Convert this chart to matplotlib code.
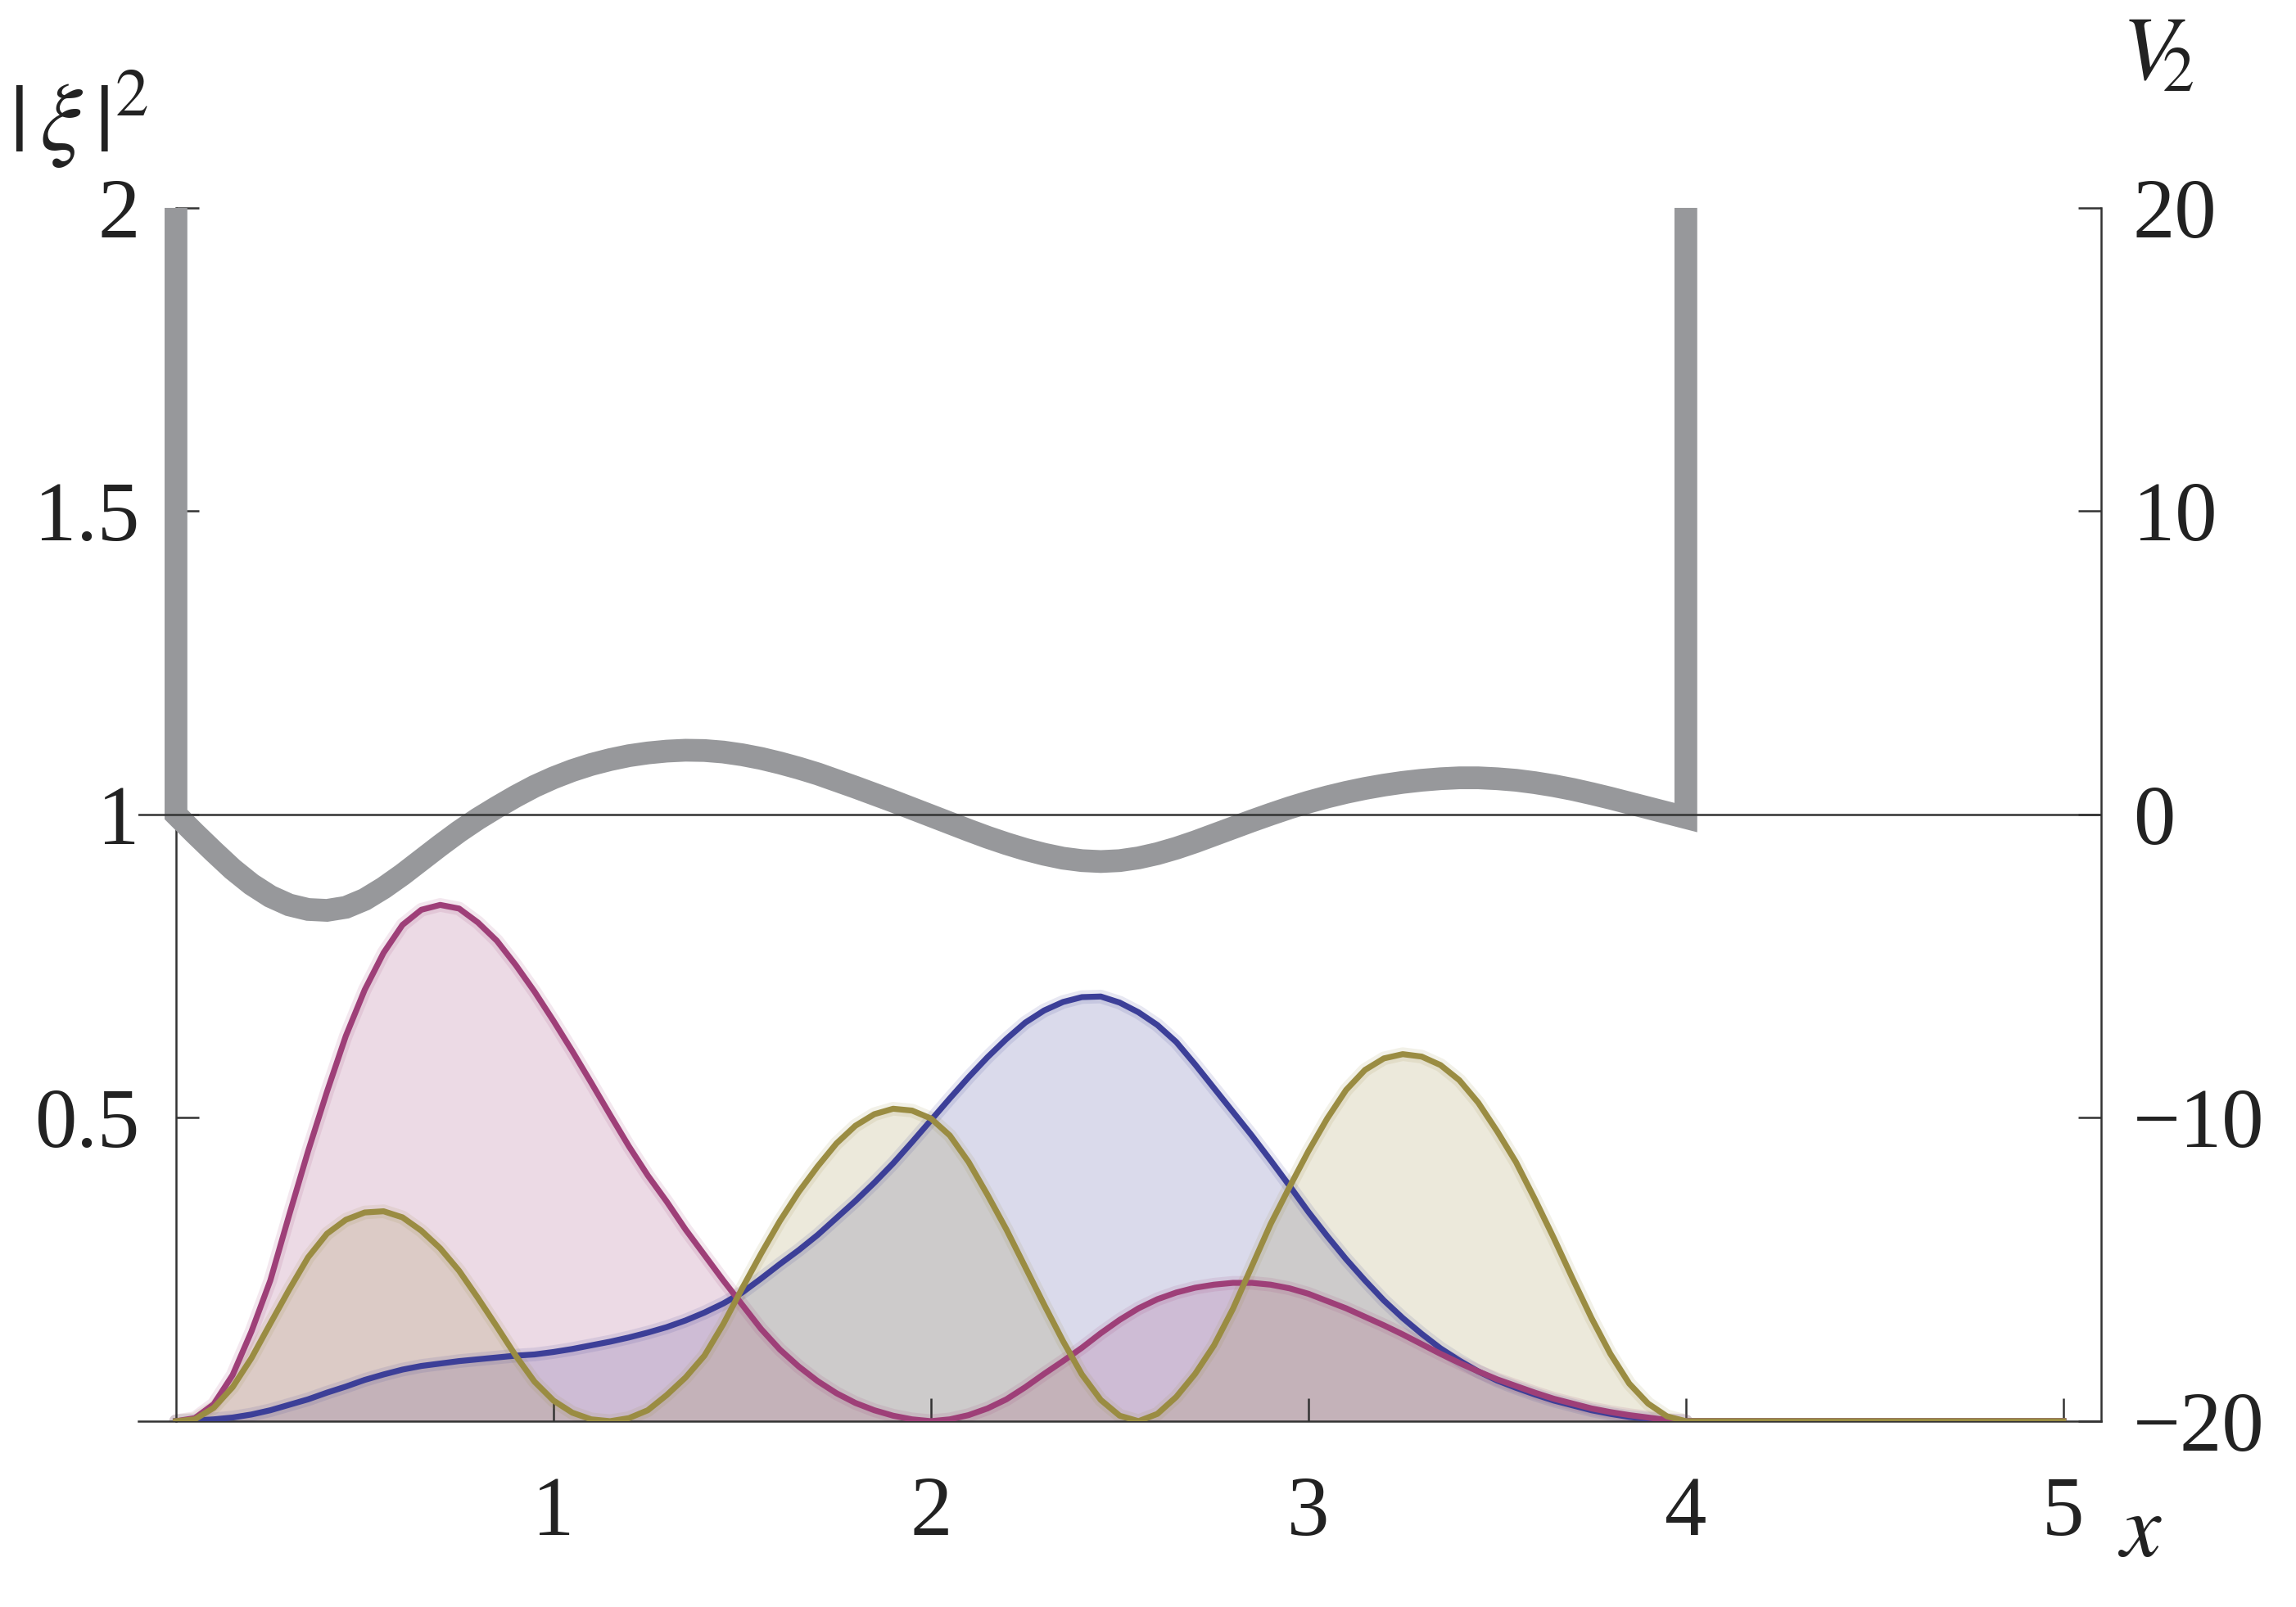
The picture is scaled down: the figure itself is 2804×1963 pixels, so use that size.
import numpy as np
import matplotlib
matplotlib.use('Agg')
import matplotlib.pyplot as plt

# ---- data ----
# sample positions along x (0 .. 4 in steps of 0.05, then 5)
x_grid = list(np.round(np.arange(0.0, 4.0001, 0.05), 2)) + [5.0]

y_blue = [0.0, 0.001, 0.003, 0.006, 0.011, 0.018, 0.027, 0.036, 0.047, 0.057,
          0.068, 0.077, 0.085, 0.091, 0.095, 0.099, 0.102, 0.105, 0.108, 0.11,
          0.114, 0.119, 0.125, 0.131, 0.138, 0.146, 0.155, 0.166, 0.179, 0.194,
          0.212, 0.235, 0.259, 0.282, 0.307, 0.335, 0.363, 0.393, 0.425, 0.46,
          0.496, 0.532, 0.567, 0.6, 0.63, 0.657, 0.677, 0.691, 0.699, 0.7,
          0.69, 0.674, 0.653, 0.625, 0.588, 0.549, 0.51, 0.471, 0.43, 0.388,
          0.345, 0.305, 0.267, 0.232, 0.199, 0.17, 0.144, 0.12, 0.1, 0.082,
          0.067, 0.055, 0.044, 0.034, 0.026, 0.018, 0.012, 0.007, 0.004, 0.001,
          0.0, 0.0]

y_mag = [0.0, 0.005, 0.028, 0.076, 0.148, 0.232, 0.34, 0.445, 0.543, 0.635,
         0.711, 0.772, 0.818, 0.843, 0.851, 0.845, 0.822, 0.792, 0.752, 0.708,
         0.66, 0.61, 0.558, 0.505, 0.453, 0.405, 0.362, 0.316, 0.274, 0.232,
         0.192, 0.152, 0.118, 0.09, 0.066, 0.046, 0.03, 0.018, 0.009, 0.003,
         0.0, 0.003, 0.01, 0.021, 0.036, 0.056, 0.078, 0.099, 0.121, 0.145,
         0.167, 0.186, 0.201, 0.212, 0.22, 0.225, 0.228, 0.228, 0.225, 0.219,
         0.21, 0.198, 0.186, 0.172, 0.158, 0.143, 0.127, 0.111, 0.096, 0.082,
         0.069, 0.058, 0.047, 0.037, 0.029, 0.021, 0.015, 0.01, 0.006, 0.002,
         0.0, 0.0]

y_olive = [0.0, 0.003, 0.022, 0.056, 0.104, 0.161, 0.217, 0.27, 0.309, 0.332,
           0.344, 0.346, 0.336, 0.314, 0.285, 0.248, 0.203, 0.156, 0.108, 0.065,
           0.034, 0.014, 0.003, 0.0, 0.005, 0.018, 0.043, 0.072, 0.108, 0.16,
           0.219, 0.276, 0.33, 0.378, 0.42, 0.458, 0.487, 0.506, 0.515, 0.512,
           0.499, 0.471, 0.427, 0.373, 0.316, 0.254, 0.192, 0.132, 0.077, 0.035,
           0.009, 0.0, 0.012, 0.04, 0.078, 0.125, 0.185, 0.255, 0.325, 0.386,
           0.445, 0.499, 0.546, 0.579, 0.598, 0.605, 0.601, 0.587, 0.562, 0.525,
           0.478, 0.427, 0.366, 0.302, 0.235, 0.17, 0.111, 0.062, 0.029, 0.008,
           0.0, 0.0]

# potential V2 (right axis), vertical walls at x = 0 and x = 4
x_pot = [0.0] + list(np.round(np.arange(0.0, 4.0001, 0.05), 2)) + [4.0]
v_pot = [20.0,
         0.0, -0.62, -1.22, -1.8, -2.3, -2.7, -2.98, -3.13, -3.16, -3.06,
         -2.8, -2.42, -1.98, -1.5, -1.02, -0.56, -0.14, 0.24, 0.6, 0.93,
         1.21, 1.45, 1.65, 1.81, 1.94, 2.03, 2.09, 2.12, 2.11, 2.06,
         1.97, 1.85, 1.7, 1.53, 1.34, 1.12, 0.9, 0.67, 0.44, 0.2,
         -0.04, -0.28, -0.52, -0.75, -0.96, -1.15, -1.31, -1.44, -1.52, -1.55,
         -1.52, -1.43, -1.29, -1.11, -0.9, -0.67, -0.44, -0.21, 0.01, 0.22,
         0.41, 0.58, 0.73, 0.86, 0.97, 1.06, 1.13, 1.18, 1.21, 1.21,
         1.18, 1.13, 1.05, 0.95, 0.83, 0.69, 0.54, 0.38, 0.22, 0.06,
         -0.1,
         20.0]

x_ticks = [1, 2, 3, 4, 5]
x_ticklabels = ['1', '2', '3', '4', '5']
yl_ticks = [0.5, 1, 1.5, 2]
yl_ticklabels = ['0.5', '1', '1.5', '2']
yr_ticks = [-20, -10, 0, 10, 20]
yr_ticklabels = ['\u221220', '\u221210', '0', '10', '20']

series = [
    (y_blue, '#3c3f98'),
    (y_mag, '#9e3f78'),
    (y_olive, '#9a8c42'),
]

# ---- style ----
plt.rcParams['font.family'] = ['Liberation Serif', 'DejaVu Serif']
plt.rcParams['mathtext.fontset'] = 'stix'
axis_col = '#333333'
text_col = '#222222'
fs = 37

fig = plt.figure(figsize=(14.02, 9.815), dpi=200)
ax = fig.add_axes([0.0602, 0.11564, 0.8549, 0.7550])
ax.set_xlim(-0.1, 5.1)
ax.set_ylim(0, 2)

xs = np.asarray(x_grid)
for ys, c in series:
    ax.fill_between(xs, 0, np.asarray(ys), color=c, alpha=0.19, lw=0, zorder=1)
m = xs <= 4.0
for ys, c in series:
    ys = np.asarray(ys)
    ax.plot(xs[m], ys[m], color=c, lw=6.0, alpha=0.12, solid_capstyle='round', zorder=2)
    ax.plot(xs, ys, color=c, lw=2.6, zorder=3, solid_joinstyle='round')

for s in ['top', 'right']:
    ax.spines[s].set_visible(False)
ax.spines['left'].set_position(('data', 0))
for s in ['left', 'bottom']:
    ax.spines[s].set_color(axis_col)
    ax.spines[s].set_linewidth(0.9)

ax.set_xticks(x_ticks)
ax.set_xticklabels(x_ticklabels)
ax.set_yticks(yl_ticks)
ax.set_yticklabels(yl_ticklabels)
ax.tick_params(axis='both', direction='in', length=10, width=0.9, color=axis_col,
               labelcolor=text_col, labelsize=fs)
ax.tick_params(axis='x', pad=24)
ax.tick_params(axis='y', pad=16)

ax2 = ax.twinx()
ax2.set_ylim(-20, 20)
for s in ['top', 'left', 'bottom']:
    ax2.spines[s].set_visible(False)
ax2.spines['right'].set_color(axis_col)
ax2.spines['right'].set_linewidth(0.9)
ax2.set_yticks(yr_ticks)
ax2.set_yticklabels(yr_ticklabels)
ax2.tick_params(axis='y', direction='in', length=10, width=0.9, color=axis_col,
                labelcolor=text_col, labelsize=fs, pad=14)

ax2.plot(x_pot, v_pot, color='#97989b', lw=10, solid_joinstyle='miter',
         solid_capstyle='butt', clip_on=False, zorder=3)
ax2.axhline(0, color=axis_col, lw=0.9, zorder=5)

fig.text(0.004, 0.925, r'$|\,\xi\,|^{2}$', fontsize=42, va='center', ha='left', color=text_col)
fig.text(0.9397, 0.964, r'$V_{\!\!2}$', fontsize=40, va='center', ha='center', color=text_col)
fig.text(0.932, 0.0453, r'$x$', fontsize=40, va='center', ha='center', color=text_col)

fig.savefig('out.png', dpi=200)
